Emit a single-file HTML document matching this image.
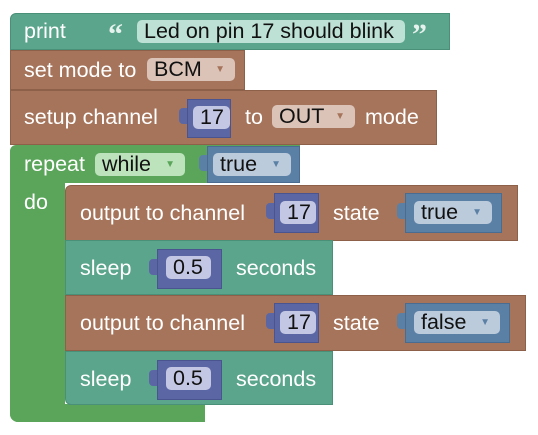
<!DOCTYPE html>
<html><head><meta charset="utf-8"><style>
body{margin:0;width:538px;height:435px;background:#fff;position:relative;overflow:hidden;font-family:"Liberation Sans",Arial,sans-serif;}
.b{position:absolute;box-sizing:border-box;}
.t{position:absolute;color:#fff;font-size:21.5px;line-height:24px;white-space:nowrap;}
.f{position:absolute;box-sizing:border-box;border-radius:5px;font-size:21.5px;line-height:23px;height:23px;color:#111;white-space:nowrap;padding-left:7px;}
.arr{position:absolute;right:10px;top:0;font-size:10px;}
.tab{position:absolute;width:8px;height:16px;border-radius:4px 0 0 4px;}
.teal{background:#5ba58c;border:1px solid #4a8f78;}
.brown{background:#a5745b;border:1px solid #8d6049;}
.green{background:#5ba55b;}
.num{background:#5b67a5;border:1px solid #4a5590;}
.bool{background:#5b80a5;border:1px solid #4a6c90;}
.q{position:absolute;color:#e6f2ee;font-size:30px;font-weight:bold;line-height:30px;font-family:"Liberation Serif",serif;}
</style></head><body>
<!-- green C -->
<div class="b green" style="left:10px;top:145px;width:290px;height:38px;border-radius:6px 0 0 0;"></div>
<div class="b green" style="left:10px;top:180px;width:55px;height:242px;border-radius:0 0 0 8px;"></div>
<div class="b green" style="left:10px;top:404px;width:195px;height:18px;border-radius:0 0 0 8px;"></div>
<div class="t" style="left:24px;top:152px">repeat</div>
<div class="t" style="left:24px;top:190px">do</div>
<div class="f" style="left:95px;top:153px;width:90px;background:#bde3bd;">while<span class="arr" style="color:#5ba55b">▼</span></div>
<div class="b bool" style="left:207px;top:146px;width:93px;height:37px;"></div>
<div class="tab" style="left:199px;top:155px;background:#5b80a5"></div>
<div class="f" style="left:213px;top:153px;width:78px;background:#bccbdb;">true<span class="arr" style="color:#5b80a5">▼</span></div>

<!-- print -->
<div class="b teal" style="left:10px;top:13px;width:440px;height:37px;border-radius:6px 0 0 0;"></div>
<div class="t" style="left:24px;top:19px">print</div>
<div class="q" style="left:108px;top:20px">“</div>
<div class="f" style="left:137px;top:20px;width:268px;background:#bde1d5;">Led on pin 17 should blink</div>
<div class="q" style="left:412px;top:20px">”</div>

<!-- set mode -->
<div class="b brown" style="left:10px;top:50px;width:235px;height:40px;"></div>
<div class="t" style="left:24px;top:58px">set mode to</div>
<div class="f" style="left:147px;top:58px;width:88px;background:#dbc3b7;">BCM<span class="arr" style="color:#a5745b">▼</span></div>

<!-- setup -->
<div class="b brown" style="left:10px;top:90px;width:427px;height:55px;"></div>
<div class="t" style="left:24px;top:105px">setup channel</div>
<div class="b num" style="left:187px;top:99px;width:44px;height:39px;"></div>
<div class="tab" style="left:179px;top:108px;background:#5b67a5"></div>
<div class="f" style="left:193px;top:106px;width:37px;background:#c3c7e3;">17</div>
<div class="t" style="left:245px;top:105px">to</div>
<div class="f" style="left:272px;top:105px;width:83px;background:#dbc3b7;">OUT<span class="arr" style="color:#a5745b">▼</span></div>
<div class="t" style="left:365px;top:105px">mode</div>

<!-- output 1 -->
<div class="b brown" style="left:65px;top:185px;width:453px;height:56px;border-radius:6px 0 0 0;"></div>
<div class="t" style="left:80px;top:201px">output to channel</div>
<div class="b num" style="left:274px;top:193px;width:45px;height:40px;"></div>
<div class="tab" style="left:266px;top:203px;background:#5b67a5"></div>
<div class="f" style="left:280px;top:201px;width:36px;background:#c3c7e3;">17</div>
<div class="t" style="left:333px;top:201px">state</div>
<div class="b bool" style="left:405px;top:193px;width:97px;height:40px;"></div>
<div class="tab" style="left:397px;top:203px;background:#5b80a5"></div>
<div class="f" style="left:414px;top:201px;width:78px;background:#bccbdb;">true<span class="arr" style="color:#5b80a5">▼</span></div>

<!-- sleep 1 -->
<div class="b teal" style="left:65px;top:240px;width:268px;height:55px;"></div>
<div class="t" style="left:80px;top:256px">sleep</div>
<div class="b num" style="left:157px;top:249px;width:65px;height:40px;"></div>
<div class="tab" style="left:149px;top:259px;background:#5b67a5"></div>
<div class="f" style="left:166px;top:256px;width:45px;background:#c3c7e3;">0.5</div>
<div class="t" style="left:236px;top:256px">seconds</div>

<!-- output 2 -->
<div class="b brown" style="left:65px;top:295px;width:461px;height:56px;"></div>
<div class="t" style="left:80px;top:311px">output to channel</div>
<div class="b num" style="left:274px;top:303px;width:45px;height:40px;"></div>
<div class="tab" style="left:266px;top:313px;background:#5b67a5"></div>
<div class="f" style="left:280px;top:311px;width:36px;background:#c3c7e3;">17</div>
<div class="t" style="left:333px;top:311px">state</div>
<div class="b bool" style="left:405px;top:303px;width:105px;height:40px;"></div>
<div class="tab" style="left:397px;top:313px;background:#5b80a5"></div>
<div class="f" style="left:414px;top:311px;width:86px;background:#bccbdb;">false<span class="arr" style="color:#5b80a5">▼</span></div>

<!-- sleep 2 -->
<div class="b teal" style="left:65px;top:351px;width:268px;height:54px;border-radius:0 0 0 6px;"></div>
<div class="t" style="left:80px;top:367px">sleep</div>
<div class="b num" style="left:157px;top:360px;width:65px;height:40px;"></div>
<div class="tab" style="left:149px;top:370px;background:#5b67a5"></div>
<div class="f" style="left:166px;top:367px;width:45px;background:#c3c7e3;">0.5</div>
<div class="t" style="left:236px;top:367px">seconds</div>
</body></html>
